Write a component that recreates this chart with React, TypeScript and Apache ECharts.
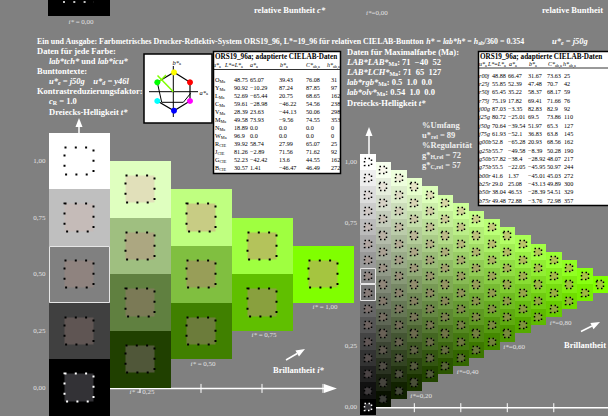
import React, { useEffect, useRef } from 'react';
import * as echarts from 'echarts';

const SERIF = '"Liberation Serif", "Times New Roman", Times, serif';
const BG = '#808080';
const LABEL_GRAY = '#e2e2e2';

// ---- colour lattice (relative chroma c*, relative whiteness w*) ----
const coarseLevels = [0, 0.25, 0.5, 0.75, 1];
const fineIndex = [0, 1, 2, 3, 4, 5, 6, 7, 8, 9, 10, 11, 12, 13, 14, 15];
const FINE_DIV = 15;
const fineLevels = fineIndex.map((n) => n / FINE_DIV);

// axis labels
const leftYTicks = [0, 0.25, 0.5, 0.75, 1];
const rightYTicks = [0, 0.25, 0.75, 1];
const leftBrilliance = [0.25, 0.5, 0.75, 1];
const rightBrilliance = [0.2, 0.4, 0.6, 0.8];
const leftAxisEnd = 1.057;
const rightAxisEnd = 1.2;

// maximal colour Ma of ORS19_96 (hue 0.354)
const maLab = [71, -40, 52];
const maLch = [71, 65, 127];
const maRgb = [0.5, 1.0, 0.0];
const maOlv = [0.54, 1.0, 0.0];
const hueRel = 0.354;
const umfangRel = 89;
const gHRel = 72;
const gCRel = 57;

// contrast-reduced sample colours (inner squares)
const innerMa = [165, 197, 64];
const innerWhite = [255, 255, 255];
const innerBlack = [51, 50, 54];
const innerDip = [-10, -22, -28];

// adapted CIELAB data, left table
const leftNames = [['O', 'Ma'], ['Y', 'Ma'], ['L', 'Ma'], ['C', 'Ma'], ['V', 'Ma'], ['M', 'Ma'], ['N', 'Ma'], ['W', 'Ma'], ['R', 'CIE'], ['J', 'CIE'], ['G', 'CIE'], ['B', 'CIE']];
const leftL = [48.75, 90.92, 52.69, 59.61, 28.39, 49.58, 18.89, 96.9, 39.92, 81.26, 52.23, 30.57];
const leftA = [65.07, -10.29, -65.44, -28.98, 23.63, 73.93, 0, 0, 58.74, -2.89, -42.42, 1.41];
const leftB = [39.43, 87.24, 20.75, -46.22, -44.13, -9.56, 0, 0, 27.99, 71.56, 13.6, -46.47];
const leftC = [76.08, 87.85, 68.65, 54.56, 50.06, 74.55, 0, 0, 65.07, 71.62, 44.55, 46.49];
const leftH = [31, 97, 162, 238, 298, 353, 0, 0, 25, 92, 162, 272];

// adapted CIELAB data, right table (hue circle)
const rightNames = ['r00j', 'r25j', 'r50j', 'r75j', 'j00g', 'j25g', 'j50g', 'j75g', 'g00b', 'g25b', 'g50b', 'g75b', 'b00r', 'b25r', 'b50r', 'b75r'];
const rightL = [48.88, 55.85, 65.45, 75.19, 87.03, 80.72, 70.64, 61.93, 52.8, 55.7, 57.82, 55.5, 41.6, 29.0, 38.04, 49.48];
const rightA = [66.47, 52.39, 35.22, 17.82, -3.35, -25.01, -39.54, -52.1, -65.28, -49.58, -38.4, -22.05, 1.37, 25.08, 46.53, 72.88];
const rightB = [31.67, 47.48, 58.37, 69.41, 82.83, 69.5, 51.97, 36.83, 20.93, -8.39, -28.92, -45.95, -45.01, -43.13, -28.39, -3.76];
const rightC = [73.63, 70.7, 68.17, 71.66, 82.9, 73.86, 65.3, 63.8, 68.56, 50.28, 48.07, 50.97, 45.03, 49.89, 54.51, 72.98];
const rightH = [25, 42, 59, 76, 92, 110, 127, 145, 162, 190, 217, 244, 272, 300, 329, 357];

const minus = (s: string) => s.replace('-', '\u2212');
const fmtDec = (v: number) => minus(Number.isInteger(v) ? v.toFixed(1) : String(v));
const fmtInt = (v: number) => minus(String(v));
const comma = (v: number) => v.toFixed(2).replace('.', ',');
const SP = '\u00a0\u00a0';

function lattice(levels: number[]) {
  const out: number[][] = [];
  levels.forEach((c) =>
    levels.forEach((w) => {
      if (c + w <= 1 + 1e-9) out.push([c, c / 2 + w, w]);
    })
  );
  return out;
}

const toHex = (v: number[]) =>
  '#' + v.map((x) => Math.max(0, Math.min(255, Math.round(x))).toString(16).padStart(2, '0')).join('');

function outerColor(c: number, w: number) {
  return toHex(maRgb.map((m) => c * m * 255 + w * 255));
}
function innerColor(c: number, w: number) {
  const k = Math.max(0, 1 - c - w);
  const d = 4 * w * (1 - w);
  return toHex([0, 1, 2].map((i) => c * innerMa[i] + w * innerWhite[i] + k * innerBlack[i] + d * innerDip[i]));
}

function makeRich(size: number, color: string, bold: boolean) {
  const base = { fontFamily: SERIF, fontWeight: bold ? 'bold' : 'normal', fill: color, color };
  return {
    r: { ...base, fontSize: size, verticalAlign: 'middle', lineHeight: size * 1.2 },
    i: { ...base, fontSize: size, fontStyle: 'italic', verticalAlign: 'middle', lineHeight: size * 1.2 },
    s: { ...base, fontSize: size * 0.7, verticalAlign: 'bottom', lineHeight: size * 0.5 },
    si: { ...base, fontSize: size * 0.7, fontStyle: 'italic', verticalAlign: 'bottom', lineHeight: size * 0.5 },
  };
}

type TOpt = { size?: number; bold?: boolean; italic?: boolean; color?: string; align?: string };
function txt(x: number, y: number, text: string, o: TOpt = {}) {
  const size = o.size ?? 8.5;
  const bold = o.bold ?? true;
  const color = o.color ?? '#ffffff';
  return {
    type: 'text',
    x,
    y,
    z: 60,
    silent: true,
    style: {
      text,
      fill: color,
      font: `${o.italic ? 'italic ' : ''}${bold ? 'bold ' : ''}${size}px ${SERIF}`,
      align: o.align ?? 'left',
      verticalAlign: 'middle',
      lineHeight: size * 1.2,
      rich: makeRich(size, color, bold),
    },
  };
}

function cellRenderer(div: number, dash: number[], dotWidth: number) {
  return (_p: any, api: any) => {
    const c = api.value(0);
    const t = api.value(1);
    const w = api.value(2);
    const h = 0.5 / div;
    const a = api.coord([c - h, t + h]);
    const b = api.coord([c + h, t - h]);
    const x0 = Math.round(a[0]);
    const y0 = Math.round(a[1]);
    const x1 = Math.round(b[0]);
    const y1 = Math.round(b[1]);
    const ia = api.coord([c - h / 2, t + h / 2]);
    const ib = api.coord([c + h / 2, t - h / 2]);
    const ix0 = Math.round(ia[0]) + 0.5;
    const iy0 = Math.round(ia[1]) + 0.5;
    const ix1 = Math.round(ib[0]) - 0.5;
    const iy1 = Math.round(ib[1]) - 0.5;
    const black = c === 0 && w === 0;
    const children: any[] = [
      { type: 'rect', shape: { x: x0, y: y0, width: x1 - x0, height: y1 - y0 }, style: { fill: outerColor(c, w) } },
      {
        type: 'rect',
        shape: { x: ix0, y: iy0, width: ix1 - ix0, height: iy1 - iy0 },
        style: { fill: innerColor(c, w), stroke: black ? '#ffffff' : '#000000', lineWidth: dotWidth, lineDash: dash },
      },
    ];
    if (c === 0 && Math.abs(t - 0.5) < 0.05) {
      children.push({
        type: 'rect',
        shape: { x: x0 + 0.5, y: y0 + 0.5, width: x1 - x0 - 1, height: y1 - y0 - 1 },
        style: { fill: 'none', stroke: '#e6e6e6', lineWidth: 1 },
      });
    }
    return { type: 'group', children };
  };
}

function axisSeries(idx: number, ticks: number[], end: number, arrow: boolean) {
  return {
    type: 'custom',
    xAxisIndex: idx,
    yAxisIndex: idx,
    z: 1,
    silent: true,
    clip: false,
    data: [[0, 0]],
    renderItem: (_p: any, api: any) => {
      const o = api.coord([0, 0]);
      const e = api.coord([end, 0]);
      const y = o[1] + 0.75;
      const children: any[] = [
        { type: 'line', shape: { x1: o[0], y1: y, x2: e[0] - (arrow ? 8 : 0), y2: y }, style: { stroke: '#ffffff', lineWidth: 1.5 } },
      ];
      ticks.forEach((v) => {
        const p = api.coord([v, 0]);
        children.push({ type: 'line', shape: { x1: p[0], y1: y - 4.5, x2: p[0], y2: y + 4.5 }, style: { stroke: '#ffffff', lineWidth: 1 } });
      });
      if (arrow) {
        children.push({ type: 'polygon', shape: { points: [[e[0] - 13, y - 4.5], [e[0], y], [e[0] - 13, y + 4.5]] }, style: { fill: '#ffffff' } });
      }
      return { type: 'group', children };
    },
  };
}

function brillianceLabels(idx: number, levels: number[], half: number, spaced: boolean, dx: number, dy: number, align: string) {
  return {
    type: 'custom',
    xAxisIndex: idx,
    yAxisIndex: idx,
    z: 5,
    silent: true,
    clip: false,
    data: levels.map((v) => [v]),
    renderItem: (_p: any, api: any) => {
      const c = api.value(0);
      const p = api.coord([c, c / 2 - half]);
      const label = spaced ? `{i|i*} = ${comma(c)}` : `{i|i*}=${comma(c)}`;
      return {
        type: 'text',
        x: p[0] + dx,
        y: p[1] + dy,
        style: {
          text: label,
          fill: LABEL_GRAY,
          font: `7px ${SERIF}`,
          align,
          verticalAlign: 'middle',
          rich: makeRich(7, LABEL_GRAY, false),
        },
      };
    },
  };
}

function yAxis(idx: number, min: number, max: number, ticks: number[]) {
  return {
    type: 'value',
    gridIndex: idx,
    min,
    max,
    axisLine: { show: false },
    axisTick: { show: false },
    splitLine: { show: false },
    axisLabel: {
      customValues: ticks,
      formatter: (v: number) => comma(v),
      color: LABEL_GRAY,
      fontSize: 7,
      fontFamily: SERIF,
      margin: 3,
      padding: [3, 0, 0, 0],
    },
  };
}

const TABLE_FONT = 6.2;

function tableGraphics(
  x: number, y: number, w: number, h: number,
  headerY: number, lineY: number, rowY0: number, rowStep: number,
  headerX: number[], colX: number[],
  names: string[], L: number[], A: number[], B: number[], C: number[], H: number[]
) {
  const opt = { size: TABLE_FONT, bold: false, color: '#000000' };
  const els: any[] = [
    { type: 'rect', z: 55, silent: true, shape: { x, y, width: w, height: h }, style: { fill: '#ffffff', stroke: '#000000', lineWidth: 1.5 } },
    { type: 'line', z: 56, silent: true, shape: { x1: x, y1: lineY, x2: x + w, y2: lineY }, style: { stroke: '#000000', lineWidth: 0.8 } },
    txt(x + 1.5, y + 5, 'ORS19_96a; adaptierte CIELAB-Daten', { size: 7.2, color: '#000000' }),
  ];
  const heads = ['{i|u*}{s|a}', '{i|L*}={i|L*}{s|a}', '{i|a*}{s|a}', '{i|b*}{s|a}', '{i|C*}{s|ab,a}', '{i|h*}{s|ab,a}'];
  heads.forEach((t, i) => els.push(txt(headerX[i], headerY, t, { ...opt, size: 6 })));
  names.forEach((n, r) => {
    const yy = rowY0 + r * rowStep;
    els.push(txt(colX[0], yy, n, opt));
    els.push(txt(colX[1], yy, fmtDec(L[r]), opt));
    els.push(txt(colX[2], yy, fmtDec(A[r]), opt));
    els.push(txt(colX[3], yy, fmtDec(B[r]), opt));
    els.push(txt(colX[4], yy, fmtDec(C[r]), opt));
    els.push(txt(colX[5], yy, fmtInt(H[r]), opt));
  });
  return els;
}

function hueDiagram() {
  const G = [157.3, 82.3], Y = [174, 72.3], R = [190, 82.3], M = [190, 101], Bl = [174, 110.7], Cy = [157.3, 101];
  const dots: [number[], string][] = [[Y, '#ffff00'], [R, '#ff0000'], [M, '#ff00ff'], [Bl, '#0000ff'], [Cy, '#00ffff'], [G, '#00ff00']];
  const els: any[] = [
    { type: 'rect', z: 55, silent: true, shape: { x: 144, y: 54, width: 68, height: 69 }, style: { fill: '#ffffff', stroke: '#000000', lineWidth: 1.5 } },
    { type: 'line', z: 56, silent: true, shape: { x1: 149, y1: 91.7, x2: 198, y2: 91.7 }, style: { stroke: '#000000', lineWidth: 1 } },
    { type: 'line', z: 56, silent: true, shape: { x1: 173.3, y1: 66, x2: 173.3, y2: 117 }, style: { stroke: '#000000', lineWidth: 1 } },
    { type: 'polyline', z: 56, silent: true, shape: { points: [Cy, Bl, M, R, Y, G] }, style: { stroke: '#000000', lineWidth: 1.2, fill: 'none' } },
    { type: 'polyline', z: 56, silent: true, shape: { points: [G, [161.7, 102.3], [183.3, 102.3], [190.7, 93.3]] }, style: { stroke: '#000000', lineWidth: 1, fill: 'none' } },
    { type: 'line', z: 57, silent: true, shape: { x1: 173.3, y1: 91.7, x2: 157.5, y2: 75.5 }, style: { stroke: '#80ff00', lineWidth: 1.5 } },
    { type: 'line', z: 57, silent: true, shape: { x1: 158.5, y1: 82.5, x2: 166, y2: 75 }, style: { stroke: '#80ff00', lineWidth: 1.5 } },
    txt(172.5, 62.5, '{i|b*}{s|a}', { size: 6.5, bold: false, color: '#000000' }),
    txt(199.5, 92, '{i|a*}{s|a}', { size: 6.5, bold: false, color: '#000000' }),
  ];
  dots.forEach(([p, col]) => els.push({ type: 'circle', z: 58, silent: true, shape: { cx: p[0], cy: p[1], r: 3 }, style: { fill: col } }));
  return els;
}

function arrow(x1: number, y1: number, x2: number, y2: number, head: number, half: number) {
  const dx = x2 - x1, dy = y2 - y1;
  const len = Math.hypot(dx, dy);
  const ux = dx / len, uy = dy / len;
  const bx = x2 - ux * head, by = y2 - uy * head;
  return [
    { type: 'line', z: 60, silent: true, shape: { x1, y1, x2: bx, y2: by }, style: { stroke: '#ffffff', lineWidth: 1.5 } },
    { type: 'polygon', z: 60, silent: true, shape: { points: [[x2, y2], [bx - uy * half, by + ux * half], [bx + uy * half, by - ux * half]] }, style: { fill: '#ffffff' } },
  ];
}

function buildOption() {
  const graphics: any[] = [
    // strip of the preceding panel
    { type: 'rect', z: 50, silent: true, shape: { x: 48, y: 0, width: 62, height: 16 }, style: { fill: '#000000' } },
    { type: 'line', z: 51, silent: true, shape: { x1: 63, y1: 2, x2: 94, y2: 2 }, style: { stroke: '#ffffff', lineWidth: 1.5, lineDash: [2, 8.3] } },
    txt(81, 21.5, '{i|i*} = 0,00', { size: 7, bold: false, color: LABEL_GRAY, align: 'center' }),
    txt(254, 10, 'relative Buntheit {i|c*}'),
    txt(366, 12.5, '{i|i*}=0,00', { size: 7, bold: false, color: LABEL_GRAY }),
    txt(542, 10, 'relative Buntheit'),

    // heading
    txt(37, 41, `Ein und Ausgabe: Farbmetrisches Drucker-Reflektiv-System ORS19_96, L*=19_96 für relativen CIELAB-Buntton {i|h*} = {i|lab*h*} = {i|h}{s|ab}/360 = ${hueRel}`, { size: 7.9 }),
    txt(552, 41, '{i|u*}{si|e}{i| = j50g}'),

    // left description block
    txt(37, 50.5, 'Daten für jede Farbe:'),
    txt(49, 60.5, `{i|lab*tch*} und {i|lab*icu*}`),
    txt(37, 70.5, 'Bunttontexte:'),
    txt(49, 80.5, `{i|u*}{si|e}{i| = j50g}${SP}${SP}{i|u*}{si|d}{i| = y46l}`),
    txt(37, 90.5, 'Kontrastreduzierungsfaktor:'),
    txt(49, 100.5, '{i|c}{s|R} = 1.0'),
    txt(49, 112, 'Dreiecks-Helligkeit {i|t*}'),

    // maximal colour block
    txt(347, 52, 'Daten für Maximalfarbe (Ma):'),
    txt(347, 62, `{i|LAB*LAB*}{s|Ma}: ${maLab.map(fmtInt).join(SP)}`),
    txt(347, 72, `{i|LAB*LCH*}{s|Ma}: ${maLch.map(fmtInt).join(SP)}`),
    txt(347, 82, `{i|lab*rgb*}{s|Ma}: ${maRgb.map(fmtDec).join(SP)}`),
    txt(347, 92, `{i|lab*olv*}{s|Ma}: ${maOlv.map(fmtDec).join(SP)}`),
    txt(347, 103, 'Dreiecks-Helligkeit {i|t*}'),
    txt(422, 125, '%Umfang', { color: '#eeeeee' }),
    txt(422, 135, `u*{s|rel} = ${umfangRel}`, { color: '#eeeeee' }),
    txt(422, 145, '%Regularität', { color: '#eeeeee' }),
    txt(422, 155, `g*{s|H,rel} = ${gHRel}`, { color: '#eeeeee' }),
    txt(422, 165, `g*{s|C,rel} = ${gCRel}`, { color: '#eeeeee' }),

    // brilliance arrows
    ...arrow(286, 360, 305, 349, 9, 3.5),
    txt(273, 369.5, 'Brillantheit {i|i*}'),
    ...arrow(581, 331.5, 600, 322, 9, 3.5),
    txt(564, 345, 'Brillantheit'),

    // vertical arrows above the achromatic columns
    ...arrow(79, 133, 79, 118, 9, 3.5),
    ...arrow(369, 154, 369, 127, 9, 3.5),

    ...hueDiagram(),
    ...tableGraphics(
      213.5, 51.5, 127, 122, 65, 69.5, 79.3, 8,
      [213, 225, 250, 280, 306, 327],
      [215, 234, 250, 279, 306, 331],
      leftNames.map(([a, b]) => `{r|${a}}{s|${b}}`),
      leftL, leftA, leftB, leftC, leftH
    ),
    ...tableGraphics(
      478.5, 51.5, 140, 154, 63.5, 68, 75, 8.35,
      [479, 488, 509, 529, 548, 563],
      [479, 492, 508, 528, 547, 564],
      rightNames.map((n) => `{i|${n}}`),
      rightL, rightA, rightB, rightC, rightH
    ),
  ];

  return {
    animation: false,
    backgroundColor: BG,
    grid: [
      { left: 48.5, top: 132.6, width: 305, height: 303.75 },
      { left: 360.1, top: 153.8, width: 261.3, height: 261.3 },
    ],
    xAxis: [
      { type: 'value', gridIndex: 0, min: -0.125, max: 1.125, show: false },
      { type: 'value', gridIndex: 1, min: -1 / 30, max: 1 + 1 / 30, show: false },
    ],
    yAxis: [yAxis(0, -0.125, 1.125, leftYTicks), yAxis(1, -1 / 30, 1 + 1 / 30, rightYTicks)],
    series: [
      axisSeries(0, leftBrilliance, leftAxisEnd, true),
      axisSeries(1, rightBrilliance, rightAxisEnd, false),
      {
        type: 'custom',
        xAxisIndex: 0,
        yAxisIndex: 0,
        z: 3,
        silent: true,
        clip: false,
        data: lattice(coarseLevels),
        renderItem: cellRenderer(4, [2, 8.3], 2),
      },
      {
        type: 'custom',
        xAxisIndex: 1,
        yAxisIndex: 1,
        z: 2,
        silent: true,
        clip: false,
        data: lattice(fineLevels),
        renderItem: cellRenderer(FINE_DIV, [1.5, 2.5], 1.5),
      },
      brillianceLabels(0, leftBrilliance, 0.125, true, 2, 4.5, 'center'),
      brillianceLabels(1, rightBrilliance, 1 / 30, false, -4, 5.5, 'left'),
    ],
    graphic: graphics,
  };
}

export default function App() {
  const ref = useRef<HTMLDivElement>(null);
  useEffect(() => {
    document.body.style.margin = '0';
    const chart = echarts.init(ref.current as HTMLDivElement, null, { renderer: 'svg' });
    chart.setOption(buildOption() as any);
    return () => chart.dispose();
  }, []);
  return <div ref={ref} style={{ width: 608, height: 416 }} />;
}
